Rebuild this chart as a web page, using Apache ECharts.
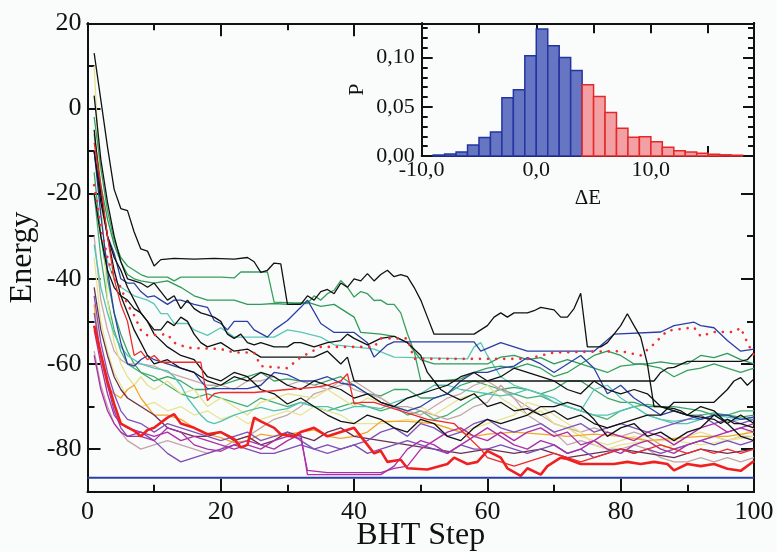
<!DOCTYPE html>
<html><head><meta charset="utf-8">
<script src="https://cdn.jsdelivr.net/npm/echarts@6/dist/echarts.min.js"></script>
<style>html,body{margin:0;padding:0;background:#fafcfc}#c{width:777px;height:552px}</style>
</head><body><div id="c"></div><script>
// ---- tick labels ----
const xTicks = [0, 20, 40, 60, 80, 100];
const yTicks = [-80, -60, -40, -20, 0, 20];
const rightMajor = [-80, -60, -40, -20];
const rightMinor = [-70, -50, -30];
const topMajor = [20, 40];
const topMinor = [10, 30];
const insetYTicks = [0, 0.05, 0.1];
const insetYMinor = [0.01,0.02,0.03,0.04,0.06,0.07,0.08,0.09,0.11,0.12,0.13];

// ---- inset histogram (bin start, probability) ----
const blueBinStart = [-9,-8,-7,-6,-5,-4,-3,-2,-1,0,1,2,3];
const blueP = [0.001,0.002,0.004,0.0112,0.0187,0.0245,0.0592,0.0673,0.102,0.1293,0.1122,0.1003,0.087];
const redBinStart = [4,5,6,7,8,9,10,11,12,13,14,15,16,17];
const redP = [0.0724,0.0605,0.0442,0.0283,0.0191,0.0197,0.0146,0.0089,0.0054,0.004,0.0027,0.0017,0.0012,0.0008];

// ---- BHT runs: [step, energy] ----
const k1 = [[1,13],[2,2],[3,-9],[4,-19],[5,-23.5],[6,-24],[7,-29],[8,-33],[9,-33.5],[10,-37],[11,-35.5],[13,-35.2],[16,-35.4],[19,-35.2],[22,-35.4],[24,-35],[25,-36],[26,-38.5],[27,-38],[28,-36.3],[29,-36.5],[30,-46],[32,-46],[33,-44],[34,-45],[35,-43],[36,-42.5],[37,-43.5],[38,-41],[39,-42],[40,-40],[41,-40.5],[42,-38.8],[43,-40.5],[44,-39],[45,-38],[46,-39.5],[47,-39],[48,-39.5],[49,-42],[50,-45],[51,-49],[52,-53],[58,-53],[59,-52],[60,-51],[61,-49],[62,-48],[63,-49],[64,-48],[66,-48],[67,-47.5],[68,-46.7],[69,-47],[70,-47.3],[71,-49],[72,-49],[73,-47],[74,-43.4],[75,-56],[77,-56],[78,-55],[79,-53],[80,-51],[81,-48.2],[82,-51],[83,-53.7],[84,-60],[85,-70],[86,-70],[88,-70.5],[89,-71],[90,-72],[92,-72.5],[94,-73],[95,-74],[96,-73],[97,-74],[98,-74],[100,-75]];
const k2 = [[1,3],[2,-12],[3,-22],[4,-30],[5,-36],[6,-40],[7,-40.5],[8,-41],[9,-42],[10,-41],[11,-43],[12,-45],[13,-44],[14,-47],[15,-45],[16,-47],[17,-48],[18,-48.5],[19,-49],[20,-50],[21,-53],[22,-54],[23,-53],[24,-55],[25,-55.5],[26,-55],[28,-56],[30,-56],[31,-55],[32,-55],[34,-56],[36,-55],[38,-54.5],[39,-53],[40,-54],[42,-55.5],[44,-54],[46,-53.5],[48,-55],[50,-58],[51,-62],[52,-64],[53,-66],[54,-67],[56,-68.5],[58,-67],[60,-70],[62,-69],[64,-71],[66,-70.5],[68,-72],[70,-71],[72,-73],[74,-72],[76,-74],[78,-75],[80,-74],[82,-73],[84,-72],[86,-72],[88,-69],[94,-69],[96,-66],[97,-64],[98,-63.2],[99,-65],[100,-63.5]];
const k3 = [[1,-10],[2,-22],[3,-30],[4,-35],[5,-38],[6,-42],[7,-45],[8,-48],[9,-50],[10,-52],[11,-52],[12,-50],[13,-51],[14,-49],[15,-50],[16,-53],[17,-55],[18,-56],[20,-55],[22,-57],[24,-56.5],[26,-58.4],[34,-58.4],[36,-57],[38,-60],[39,-58.4],[40,-64],[84,-64],[85,-64],[86,-62],[87,-61],[88,-60.8],[90,-59.4],[98,-59.4],[99,-59],[100,-57.3]];
const k4 = [[1,-20],[2,-30],[3,-38],[4,-42],[5,-44],[6,-45],[7,-47],[8,-48],[9,-50],[10,-53],[12,-56],[14,-58],[16,-59],[18,-63],[20,-64],[22,-62],[24,-63],[26,-66],[28,-67],[30,-69.4],[32,-68],[34,-70],[36,-72],[38,-73.5],[40,-74],[42,-72],[44,-73],[46,-75],[48,-76],[50,-73],[52,-74],[54,-77],[56,-78],[58,-75],[60,-73],[62,-74],[64,-73],[66,-72],[68,-70],[70,-70],[72,-69],[74,-70],[76,-73],[78,-77],[80,-75],[82,-74],[84,-77],[86,-76],[88,-78],[90,-76],[92,-75],[94,-72],[96,-74],[98,-77],[100,-78]];
const k5 = [[1,-5],[2,-20],[3,-30],[4,-38],[5,-44],[6,-48],[7,-52],[8,-55],[9,-58],[10,-60],[12,-59],[14,-61],[16,-62],[18,-64],[20,-65],[22,-63],[24,-64],[26,-62],[28,-63],[30,-65],[32,-66],[34,-64],[36,-65],[38,-66],[40,-68],[42,-67],[44,-69],[46,-70],[48,-68],[50,-67],[52,-66],[54,-65],[56,-63],[58,-62],[60,-64],[62,-63],[64,-61],[66,-62],[68,-63],[70,-64],[72,-66],[74,-67],[76,-64],[78,-66],[80,-67],[82,-66],[84,-67],[86,-70],[88,-71],[90,-72],[92,-70],[94,-71],[96,-74],[98,-72],[100,-74]];
const g1 = [[1,-2],[2,-14],[3,-24],[4,-31],[5,-35],[6,-37],[7,-38],[8,-39],[9,-39.6],[12,-39.6],[13,-40.5],[14,-39.6],[20,-39.6],[22,-39.8],[23,-38.4],[27,-38.4],[28,-45.5],[33,-45.8],[34,-44],[35,-45],[36,-43.5],[37,-42.7],[38,-40.4],[39,-42],[40,-44.3],[41,-43],[42,-43.5],[43,-45.1],[44,-45],[45,-46],[46,-46],[47,-48],[48,-52.9],[49,-57],[50,-63.9],[53,-64],[56,-63.5],[58,-62],[60,-61],[62,-60.5],[64,-61],[66,-60],[68,-61],[70,-63],[72,-62],[74,-60],[76,-61],[78,-62],[80,-60.5],[83,-60],[86,-61],[88,-63],[90,-61.5],[92,-61],[94,-60],[96,-61],[98,-62],[100,-61]];
const g2 = [[1,-6],[2,-18],[3,-26],[4,-32],[5,-36],[6,-39],[7,-40],[8,-40.5],[10,-41],[12,-40.5],[14,-42],[16,-44],[18,-45],[22,-45],[24,-46],[26,-46],[28,-45.8],[30,-46],[33,-45.5],[35,-46.5],[37,-46],[38,-47],[40,-49],[41,-52.6],[44,-53],[46,-53.5],[48,-55],[50,-59],[52,-60],[60,-60],[62,-58.4],[64,-58],[66,-59],[68,-58.5],[70,-60],[72,-59],[74,-60],[76,-58],[78,-57],[80,-58],[82,-60],[84,-60],[86,-59.5],[88,-60],[90,-60],[92,-58],[94,-58.5],[96,-57.5],[98,-59],[100,-60]];
const g3 = [[1,-15],[2,-30],[3,-40],[4,-48],[5,-53],[6,-57],[7,-60],[8,-62],[10,-64],[12,-63],[14,-64],[16,-66],[18,-66],[20,-65],[22,-64],[24,-63],[26,-62],[28,-64],[30,-63.5],[32,-64],[34,-65],[36,-64],[38,-63],[40,-65],[42,-67],[44,-67.5],[46,-66],[48,-66],[50,-68],[52,-68],[54,-67],[56,-65],[58,-64],[60,-65],[62,-66],[64,-65.5],[66,-66],[68,-67],[70,-66],[72,-64],[74,-64],[76,-66],[78,-68],[80,-69],[82,-69],[84,-70],[88,-70],[90,-70.5],[92,-71],[94,-72],[96,-72],[98,-72.5],[100,-72]];
const g4 = [[1,-20],[2,-35],[3,-45],[4,-52],[5,-57],[6,-60],[8,-62],[10,-63],[12,-65],[14,-67],[16,-68],[18,-67],[20,-68],[22,-69],[24,-70],[26,-68],[28,-69],[30,-70],[32,-69],[34,-70],[36,-71],[38,-70],[40,-69],[42,-70],[44,-71],[46,-70],[48,-72],[50,-71],[52,-73],[54,-72],[56,-70],[58,-68],[60,-67],[62,-66],[64,-67],[66,-68],[68,-67.5],[70,-69],[72,-70],[74,-71],[76,-72],[78,-73],[80,-71],[82,-70],[84,-69.5],[86,-70],[88,-71],[90,-72],[92,-72],[94,-71.5],[96,-72],[98,-71],[100,-71]];
const t1 = [[1,-20],[2,-30],[3,-36],[4,-40],[5,-42],[6,-43],[7,-44],[9,-45],[10,-45.9],[11,-48.2],[12,-48.2],[13,-50.5],[15,-50.5],[16,-52],[18,-53.3],[20,-51.5],[22,-53.7],[28,-53.7],[30,-52],[32,-52.5],[35,-53.7],[37,-55.5],[40,-56],[43,-56.5],[46,-58.4],[57,-58.8],[58,-56],[59,-55],[60,-58],[62,-63],[64,-65],[66,-66],[68,-67],[70,-69],[72,-70],[74,-71],[76,-66],[78,-65],[80,-68],[82,-70],[84,-72],[86,-73],[88,-73.5],[90,-73],[92,-73],[94,-72],[96,-73.5],[98,-73],[100,-73]];
const t2 = [[1,-32],[2,-42],[3,-48],[4,-53],[5,-56],[6,-58],[7,-59],[8,-60],[10,-61],[12,-61.6],[13,-63],[14,-65],[15,-68],[17,-72],[18,-73.5],[19,-74],[20,-73.5],[22,-72],[24,-71],[26,-70.2],[28,-71],[30,-70.5],[32,-69],[34,-70],[36,-70],[38,-71],[40,-70],[42,-70],[44,-70.5],[46,-69],[48,-68],[50,-67],[52,-65],[54,-65],[56,-66],[58,-66.5],[60,-67],[62,-67.5],[64,-67],[66,-66],[68,-67],[70,-68],[72,-70],[74,-71],[76,-72],[78,-72],[80,-71],[82,-70],[84,-72],[86,-73],[88,-74],[90,-74],[92,-73],[94,-72],[96,-72.5],[98,-73],[100,-72.5]];
const o1 = [[1,-46],[2,-59],[3,-65.5],[4,-67],[5,-68],[6,-66],[7,-65],[8,-68],[10,-72],[12,-72],[14,-73],[16,-75],[18,-76.5],[20,-77.3],[22,-78.5],[24,-78],[26,-76.5],[28,-77],[30,-76.5],[32,-76],[34,-75.5],[36,-77],[38,-77.5],[40,-77],[42,-76],[44,-73.5],[48,-73.5],[52,-74],[54,-75],[56,-76],[58,-77],[60,-76.5],[64,-76],[68,-76.5],[72,-77],[76,-76.5],[80,-77],[84,-78],[88,-77.5],[92,-77],[96,-77],[100,-76]];
const y1 = [[1,10],[2,-20],[3,-45],[4,-55],[5,-60],[6,-63],[7,-65],[8,-63],[9,-65],[10,-66],[12,-64],[14,-67],[16,-66],[18,-70],[20,-68],[22,-70],[24,-72],[26,-69],[28,-68],[30,-67],[32,-67.5],[34,-68],[36,-66],[38,-68],[40,-70],[42,-68],[44,-69],[46,-70],[48,-71],[50,-70],[52,-72],[54,-70],[56,-68],[58,-67],[60,-65],[62,-68],[64,-70],[66,-72],[68,-71],[70,-74],[72,-75],[74,-77],[76,-78],[78,-79],[80,-78],[82,-77],[84,-78],[86,-80],[88,-79],[90,-77],[92,-76],[94,-77],[96,-78],[98,-77],[100,-75]];
const y2 = [[1,-35],[2,-50],[3,-57],[4,-62],[5,-65],[6,-68],[8,-70],[10,-69],[12,-71],[14,-70],[16,-72],[18,-71],[20,-73],[22,-72],[24,-74],[26,-73],[28,-72],[30,-71],[32,-72],[34,-70],[36,-71],[38,-72],[40,-74],[44,-74],[48,-73],[52,-74],[56,-76],[60,-74],[64,-72],[66,-69],[68,-70],[70,-72],[72,-74],[74,-76],[76,-79],[78,-80],[80,-79],[84,-78],[88,-78],[92,-79],[96,-78],[100,-77]];
const m1 = [[1,-52],[2,-60],[3,-67],[4,-72],[5,-74],[6,-75],[8,-76],[10,-77],[12,-76],[14,-78],[16,-77],[18,-78],[20,-79],[22,-80],[24,-79],[26,-80],[28,-78],[30,-77],[32,-77.5],[33,-85],[36,-85.5],[44,-85.5],[46,-84.5],[48,-84],[50,-80],[52,-78],[54,-76],[56,-75],[58,-77],[60,-78],[62,-76],[64,-78],[66,-76],[68,-75],[70,-77],[72,-76],[74,-79],[76,-78],[78,-76],[80,-77],[82,-78],[84,-76],[86,-77],[88,-79],[90,-77],[92,-75],[94,-74],[96,-76],[98,-75],[100,-76]];
const m2 = [[1,-58],[2,-66],[3,-71],[4,-74],[5,-76],[6,-77],[8,-77],[10,-78],[12,-75],[14,-76],[16,-79],[18,-80],[20,-80.5],[22,-79],[24,-78],[26,-79],[28,-80],[30,-78],[32,-76.5],[33,-86],[44,-86],[46,-84],[48,-80],[50,-78],[52,-79],[54,-81],[56,-79],[58,-77],[60,-75],[62,-77],[64,-79],[66,-80],[68,-78],[70,-79],[72,-81],[74,-80],[76,-78],[78,-80],[80,-81],[82,-79],[84,-78],[86,-80],[88,-81],[90,-79],[92,-78],[94,-77],[96,-76],[98,-75],[100,-74]];
const p1 = [[1,-48],[2,-58],[3,-65],[4,-71],[5,-75],[6,-77],[8,-76],[10,-78],[12,-81],[14,-83],[16,-82],[18,-81],[20,-80],[22,-79],[24,-80],[26,-81],[28,-81],[30,-80],[32,-79],[34,-80],[36,-79],[38,-80],[40,-79],[42,-81],[44,-80],[46,-79],[48,-78],[50,-79],[52,-80],[54,-81],[56,-79],[58,-80],[60,-80],[62,-79],[64,-80],[66,-81],[68,-80],[70,-79],[72,-81],[74,-80],[76,-82],[78,-81],[80,-80],[82,-81],[84,-80],[86,-81],[88,-80],[90,-79],[92,-78],[94,-79],[96,-78],[98,-79],[100,-78]];
const p2 = [[1,-44],[2,-55],[3,-62],[4,-67],[5,-71],[6,-73],[8,-74],[10,-76],[12,-74],[14,-75],[16,-76],[18,-77],[20,-78],[22,-77],[24,-76],[26,-78],[28,-77],[30,-76],[32,-78],[34,-80],[36,-81],[38,-80],[40,-79],[42,-78],[44,-76],[46,-75],[48,-77],[50,-74],[52,-75],[54,-77],[56,-76],[58,-74],[60,-73],[62,-75],[64,-76],[66,-75],[68,-74],[70,-76],[72,-75],[74,-74],[76,-76],[78,-75],[80,-74],[82,-75],[84,-76],[86,-75],[88,-74],[90,-73],[92,-72],[94,-74],[96,-73],[98,-74],[100,-73]];
const tn1 = [[1,-57],[2,-65],[3,-70],[4,-74],[5,-76],[6,-78],[7,-79],[8,-80],[10,-79],[12,-78],[14,-79],[16,-80],[18,-81],[20,-80],[22,-78],[24,-77],[26,-75],[28,-73],[30,-72],[32,-70],[34,-67],[36,-66],[38,-65],[40,-64],[42,-66],[44,-68],[46,-70],[48,-70],[50,-71],[52,-72],[54,-73],[56,-72],[58,-70],[60,-69],[62,-65],[64,-68],[66,-72],[68,-74],[70,-76],[72,-79],[74,-78],[76,-79],[78,-80],[80,-80],[82,-79],[84,-80],[86,-82],[88,-83],[90,-83],[92,-82],[94,-83],[96,-82],[98,-83],[100,-82]];
const tn2 = [[1,-30],[2,-45],[3,-52],[4,-57],[5,-59],[6,-60],[8,-60],[10,-60.5],[12,-62],[14,-63],[16,-64],[18,-65],[20,-65],[22,-66],[24,-64],[26,-64],[28,-63],[30,-65],[32,-64],[34,-65],[36,-66],[38,-64],[40,-66],[42,-67],[44,-68],[46,-70],[48,-71],[50,-72],[52,-70],[54,-68],[56,-67],[58,-65],[60,-64],[62,-66],[64,-68],[66,-70],[68,-72],[70,-74],[72,-75],[74,-76],[76,-75],[78,-76],[80,-77],[82,-76],[84,-77],[86,-79],[88,-80],[90,-79],[92,-78],[94,-77],[96,-78],[98,-77],[100,-77]];
const mr1 = [[1,-42],[2,-52],[3,-58],[4,-63],[5,-66],[6,-68],[8,-70],[10,-72],[12,-75],[14,-76],[16,-77],[18,-77],[20,-76],[22,-78],[24,-77],[26,-79],[28,-78],[30,-76],[32,-77],[34,-78],[36,-76],[38,-75],[40,-77],[44,-78],[48,-79],[52,-80],[56,-81],[60,-80],[64,-81],[68,-80],[72,-82],[76,-81],[80,-80],[84,-81],[88,-82],[92,-80],[96,-81],[100,-80]];
const b1 = [[1,-10],[2,-20],[3,-30],[4,-34],[5,-40],[6,-41],[7,-41],[8,-43],[9,-44.3],[10,-44],[11,-45],[12,-46],[13,-45],[14,-45],[16,-46],[18,-46.7],[19,-49.8],[20,-50.5],[21,-52],[22,-50],[24,-50],[25,-52],[27,-53.7],[28,-52],[30,-49.8],[32,-46.7],[33,-45],[35,-50.5],[37,-52.6],[40,-52.6],[42,-55],[43,-58.4],[45,-55.5],[46,-54.8],[58,-54.8],[59,-57],[62,-55],[66,-57],[76,-57],[79,-53],[86,-52.5],[88,-51],[91,-50.2],[92,-51],[94,-51.5],[96,-54.5],[98,-57],[100,-56.5]];
const b2 = [[1,-10],[2,-25],[3,-38],[4,-48],[5,-55],[6,-60],[7,-60.5],[8,-59],[9,-58],[10,-59],[12,-60],[14,-61],[16,-62],[17,-64],[18,-65.8],[24,-65.8],[26,-65],[28,-62],[30,-62.5],[32,-64],[34,-64],[36,-63],[38,-64.5],[40,-65],[42,-67],[44,-69],[46,-70],[48,-71],[50,-70],[52,-68],[54,-67],[56,-64],[58,-62],[60,-62],[62,-61],[64,-60.5],[66,-58.5],[68,-60],[70,-62],[72,-60],[74,-58],[76,-61],[78,-67],[80,-65],[82,-68],[84,-70],[86,-72],[88,-71],[90,-72],[92,-73],[94,-72],[96,-72],[98,-73],[100,-72.5]];
const r2 = [[1,-8],[2,-18],[3,-30],[4,-40],[5,-46],[6,-50],[7,-58],[8,-57],[9,-59],[10,-58],[11,-59.6],[17,-59.6],[18,-68.6],[19,-67],[20,-66.7],[25,-66.7],[30,-66],[34,-65.5],[36,-65],[38,-64],[39,-62.3],[40,-69.4],[41,-69],[43,-69],[45,-70],[47,-71],[49,-72],[51,-73],[53,-73.5],[55,-74],[57,-77],[59,-80],[60,-82],[62,-83],[64,-84],[66,-83],[68,-82],[70,-81],[72,-82],[74,-83],[76,-82],[78,-81],[80,-80],[82,-81],[84,-80],[86,-79],[88,-80],[90,-81],[92,-80],[94,-81],[96,-80],[98,-81],[100,-80]];
const rDot = [[1,-18],[2,-28],[3,-35],[4,-40],[5,-42],[6,-46],[7,-48.6],[8,-52],[9,-53.3],[12,-53],[13,-55],[15,-56.2],[20,-56.5],[22,-57.3],[25,-57.3],[26,-60.5],[30,-61],[32,-58.4],[35,-56],[43,-56],[44,-54],[48,-54],[49,-58.8],[66,-58.8],[70,-57.3],[80,-57],[83,-58],[85,-55.3],[87,-52.2],[91,-51.4],[92,-53.5],[94,-52.5],[97,-52.5],[98,-51.5],[99,-55],[100,-58]];
const rThick = [[1,-51],[2,-57.6],[3,-64],[4,-69.4],[5,-74],[7,-75.7],[8,-77],[9,-75.5],[10,-75],[12,-72.6],[13,-71.8],[14,-74],[16,-75],[18,-76.5],[20,-76],[22,-77.6],[23,-79.6],[24,-79],[25,-72.6],[26,-73.5],[28,-75],[29,-76.5],[31,-77],[32,-76],[34,-75],[36,-77],[38,-76],[40,-75],[42,-79],[43,-81],[44,-80.4],[45,-83],[47,-82.5],[48,-84.5],[51,-84.8],[54,-83.5],[55,-82],[57,-83.5],[58.5,-83],[60,-80.4],[62,-82],[63,-84.5],[65,-86.3],[66,-84.5],[68,-86],[69,-84],[71,-82],[72,-82.3],[74,-83.5],[79,-83.5],[81,-83],[83,-83.5],[85,-83],[87,-83.5],[88,-85],[90,-83.5],[92,-84],[94,-83.5],[96,-84.6],[98,-85.1],[100,-82.8]];
const globalMin = [[0,-86.7],[100,-86.7]];

const runs = [
  {data:g4, color:'#45b070'}, {data:g3, color:'#3aa565'}, {data:tn2, color:'#c9a6a8'}, {data:tn1, color:'#c4a4a6'},
  {data:y1, color:'#e6e28c'}, {data:y2, color:'#e8e494'}, {data:t2, color:'#52c2b2'}, {data:t1, color:'#5cc6b8'},
  {data:o1, color:'#f4a628'}, {data:mr1, color:'#6a3050'}, {data:p1, color:'#7c4cb4'}, {data:p2, color:'#8050b8'},
  {data:m1, color:'#b02ca8'}, {data:m2, color:'#a830a8'}, {data:g1, color:'#37a05c'}, {data:g2, color:'#2f9a5a'},
  {data:b2, color:'#2c40a4'}, {data:b1, color:'#2a3ea2'}, {data:k5, color:'#111'}, {data:k4, color:'#111'},
  {data:k3, color:'#111'}, {data:k2, color:'#111'}, {data:k1, color:'#111'}, {data:r2, color:'#ee2a2a'}
];

const serif = 'Liberation Serif, Times New Roman, serif';
const ink = '#111';
const lineSeries = runs.map(r => ({
  type:'line', xAxisIndex:0, yAxisIndex:0, data:r.data, showSymbol:false, clip:true,
  lineStyle:{color:r.color, width:1.3}, silent:true, z:2
}));
lineSeries.push({type:'line', xAxisIndex:0, yAxisIndex:0, data:rDot, showSymbol:false, clip:true,
  lineStyle:{color:'#ee3030', width:2.6, type:[0.1,8], cap:'round'}, z:3});
lineSeries.push({type:'line', xAxisIndex:0, yAxisIndex:0, data:rThick, showSymbol:false, clip:true,
  lineStyle:{color:'#f02020', width:2.6}, z:4});
lineSeries.push({type:'line', xAxisIndex:0, yAxisIndex:0, data:globalMin, showSymbol:false, clip:true,
  lineStyle:{color:'#2a40a8', width:2}, z:4});

function histSeries(starts, probs, fill, stroke) {
  return {
    type:'custom', xAxisIndex:2, yAxisIndex:4, z:5,
    data: starts.map((s,i) => [s, s+1, probs[i]]),
    encode:{x:[0,1], y:2},
    renderItem:(params, api) => {
      const a = api.coord([api.value(0), api.value(2)]);
      const b = api.coord([api.value(1), 0]);
      return {type:'rect', shape:{x:a[0], y:a[1], width:b[0]-a[0], height:b[1]-a[1]},
        style:{fill:fill, stroke:stroke, lineWidth:1.5}};
    }
  };
}

const lineBase = () => ({show:true, onZero:false, lineStyle:{color:ink, width:2}});
const tk = () => ({color:ink, width:2});
const mainXBottom = () => ({
  gridIndex:0, type:'value', position:'bottom', min:0, max:100, interval:20,
  axisLine:lineBase(),
  axisTick:{show:true, inside:true, length:13, lineStyle:tk()},
  minorTick:{show:true, splitNumber:2, length:7, lineStyle:tk()},
  splitLine:{show:false},
  axisLabel:{show:true, fontFamily:serif, fontSize:26, color:ink, margin:7,
    formatter: v => xTicks.includes(v) ? String(v) : ''},
  name:'BHT Step', nameLocation:'middle', nameGap:28, nameMoveOverlap:false,
  nameTextStyle:{fontFamily:serif, fontSize:32, color:ink}
});
const mainXTop = (vals, len) => ({
  gridIndex:0, type:'value', position:'top', min:0, max:100,
  axisLine:lineBase(),
  axisTick:{show:true, inside:true, length:len, lineStyle:tk(), customValues:vals},
  axisLabel:{show:false}, splitLine:{show:false}
});
const mainYLeftMinor = () => ({
  gridIndex:0, type:'value', position:'left', min:-90, max:20, interval:10,
  axisLine:lineBase(),
  axisTick:{show:true, inside:true, length:7, lineStyle:tk()},
  axisLabel:{show:false}, splitLine:{show:false}
});
const mainYLeftMajor = () => ({
  gridIndex:0, type:'value', position:'left', min:-90, max:20,
  axisLine:lineBase(),
  axisTick:{show:true, inside:true, length:13, lineStyle:tk(), customValues:yTicks},
  axisLabel:{show:true, fontFamily:serif, fontSize:26, color:ink, margin:6, customValues:yTicks},
  splitLine:{show:false},
  name:'Energy', nameLocation:'middle', nameGap:49, nameRotate:90, nameMoveOverlap:false,
  nameTextStyle:{fontFamily:serif, fontSize:32, color:ink}
});
const mainYRight = (vals, len) => ({
  gridIndex:0, type:'value', position:'right', min:-90, max:20,
  axisLine:lineBase(),
  axisTick:{show:true, inside:true, length:len, lineStyle:tk(), customValues:vals},
  axisLabel:{show:false}, splitLine:{show:false}
});
const insetX = (pos, labels) => ({
  gridIndex:1, type:'value', position:pos, min:-10, max:19, interval:5,
  axisLine:lineBase(),
  axisTick:{show:true, inside:true, length:10, lineStyle:tk()},
  splitLine:{show:false},
  axisLabel:{show:labels, fontFamily:serif, fontSize:22, color:ink, margin:3,
    formatter: v => (v % 10 === 0) ? v.toFixed(1).replace('.', ',') : ''},
  name: labels ? 'ΔE' : '', nameLocation:'middle', nameGap:32, nameMoveOverlap:false,
  nameTextStyle:{fontFamily:serif, fontSize:21, color:ink}
});
const insetYMajor = (pos, labels) => ({
  gridIndex:1, type:'value', position:pos, min:0, max:0.135,
  axisLine:lineBase(),
  axisTick:{show:true, inside:true, length:11, lineStyle:tk(), customValues:insetYTicks},
  splitLine:{show:false},
  axisLabel:{show:labels, fontFamily:serif, fontSize:22, color:ink, margin:7,
    customValues:insetYTicks, formatter: v => v.toFixed(2).replace('.', ',')},
  name: labels ? 'P' : '', nameLocation:'middle', nameGap:53, nameRotate:90, nameMoveOverlap:false,
  nameTextStyle:{fontFamily:serif, fontSize:22, color:ink}
});
const insetYMinorAxis = (pos) => ({
  gridIndex:1, type:'value', position:pos, min:0, max:0.135,
  axisLine:lineBase(),
  axisTick:{show:true, inside:true, length:6, lineStyle:tk(), customValues:insetYMinor},
  axisLabel:{show:false}, splitLine:{show:false}
});

const chart = echarts.init(document.getElementById('c'), null, {renderer:'canvas'});
chart.setOption({
  animation:false,
  grid:[
    {left:87.5, top:23.3, width:666.5, height:468.4, containLabel:false, outerBoundsMode:'none'},
    {left:421.7, top:23.3, width:332.3, height:132.7, containLabel:false, outerBoundsMode:'none'}
  ],
  xAxis:[mainXBottom(), mainXTop(topMajor, 13), insetX('bottom', true), insetX('top', false), mainXTop(topMinor, 7)],
  yAxis:[mainYLeftMinor(), mainYLeftMajor(), mainYRight(rightMinor, 7), mainYRight(rightMajor, 13),
         insetYMajor('left', true), insetYMinorAxis('left'), insetYMajor('right', false), insetYMinorAxis('right')],
  series: lineSeries.concat([
    histSeries(blueBinStart, blueP, '#6676c2', '#2434a0'),
    histSeries(redBinStart, redP, '#f3a0a4', '#e42828')
  ])
});
</script></body></html>
